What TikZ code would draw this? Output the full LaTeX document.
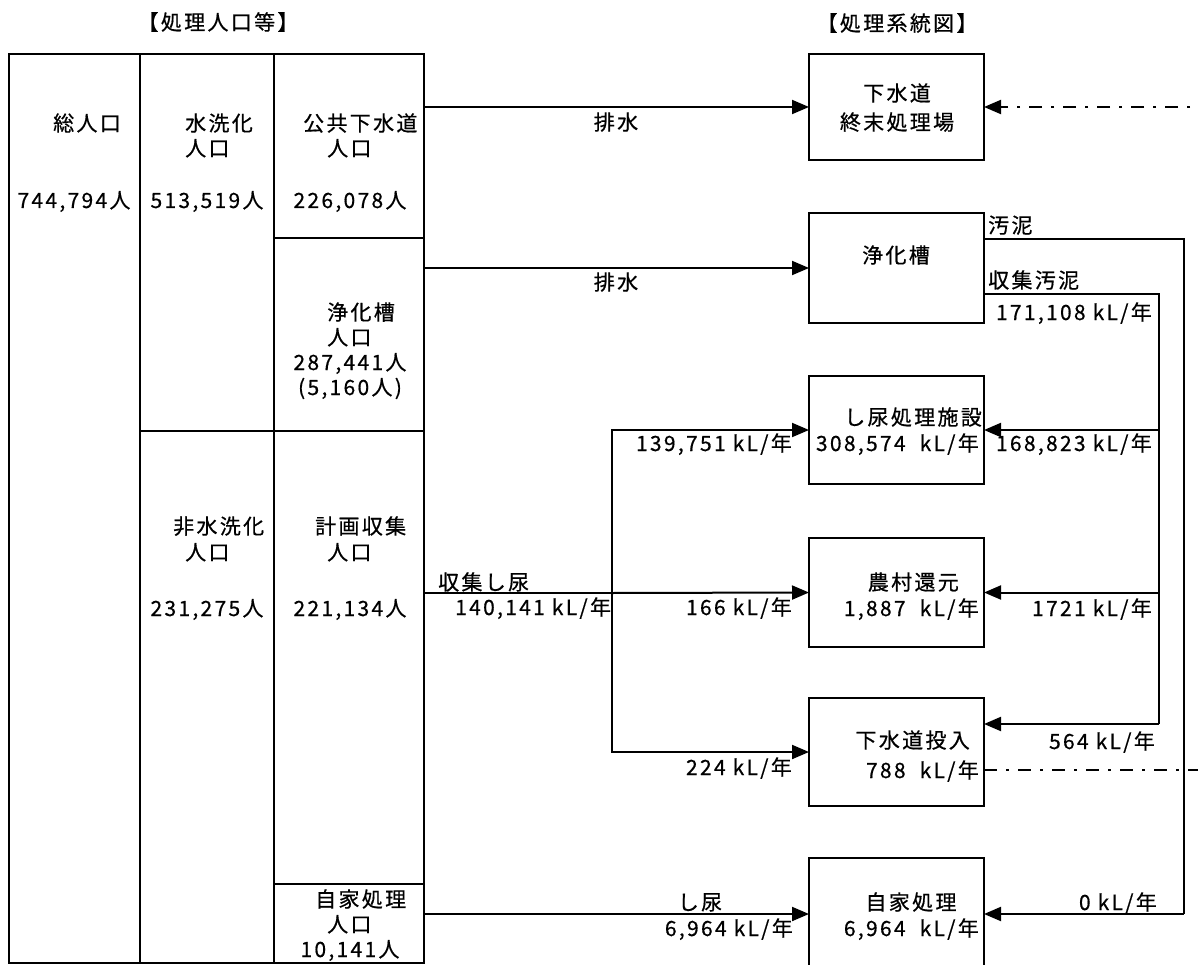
\documentclass[tikz,border=0pt]{standalone}
\usepackage{fontspec}
\setmainfont{Noto Sans CJK JP}[LetterSpace=11, FakeBold=0.6]
\usetikzlibrary{arrows.meta}
\tikzset{
  lbl/.style={font=\fontsize{21pt}{25pt}\selectfont, inner sep=0pt, text height=18.5pt, text depth=2.5pt},
  box/.style={draw, line width=2pt, minimum width=175pt, inner sep=0pt, outer sep=0pt},
  conn/.style={line width=2pt},
  arr/.style={line width=2pt, -{Triangle[length=17pt,width=14pt]}},
  dd/.style={line width=2pt, dash pattern=on 13pt off 9pt on 3pt off 9pt},
  grid/.style={line width=2pt},
}
\begin{document}
\begin{tikzpicture}[x=1pt, y=-1pt]
\fill[white] (0,0) rectangle (1198,965);
\useasboundingbox (0,0) rectangle (1198,965);

% titles
\node[lbl] (tA) at (218,22) {【処理人口等】};
\node[lbl] (tB) at (897,23) {【処理系統図】};

% table
\draw[grid] (9,54) rectangle (424,963);
\draw[grid] (140,54) -- (140,963);
\draw[grid] (274,54) -- (274,963);
\draw[grid] (274,238) -- (424,238);
\draw[grid] (140,431) -- (424,431);
\draw[grid] (274,884) -- (424,884);

\node[lbl] (c1a) at (87,123) {総人口};
\node[lbl] (c1b) at (74,200) {744,794人};
\node[lbl, anchor=west] (c2a) at (185,123) {水洗化};
\node[lbl, anchor=west] (c2b) at (185,148) {人口};
\node[lbl] (c2c) at (207,200) {513,519人};
\node[lbl, anchor=west] (c3a) at (303,123) {公共下水道};
\node[lbl, anchor=west] (c3b) at (327,148) {人口};
\node[lbl] (c3c) at (350,200) {226,078人};
\node[lbl, anchor=west] (c4a) at (327,312) {浄化槽};
\node[lbl, anchor=west] (c4b) at (327,337) {人口};
\node[lbl] (c4c) at (350,362) {287,441人};
\node[lbl] (c4d) at (350,387) {(5,160人)};
\node[lbl, anchor=west] (c5a) at (173,526) {非水洗化};
\node[lbl, anchor=west] (c5b) at (185,552) {人口};
\node[lbl] (c5c) at (207,608) {231,275人};
\node[lbl, anchor=west] (c6a) at (315,526) {計画収集};
\node[lbl, anchor=west] (c6b) at (327,552) {人口};
\node[lbl] (c6c) at (350,608) {221,134人};
\node[lbl, anchor=west] (c7a) at (315,899) {自家処理};
\node[lbl, anchor=west] (c7b) at (327,924) {人口};
\node[lbl] (c7c) at (350,949) {10,141人};

% boxes
\node[box, minimum height=106pt] (b1) at (896.5,107) {};
\node[box, minimum height=110pt] (b2) at (896.5,268) {};
\node[box, minimum height=108pt] (b3) at (896.5,430) {};
\node[box, minimum height=109pt] (b4) at (896.5,592.5) {};
\node[box, minimum height=108pt] (b5) at (896.5,752) {};
\node[box, minimum height=112pt] (b6) at (896.5,914) {};

\node[lbl] (b1a) at (897,93) {下水道};
\node[lbl] (b1b) at (897,122) {終末処理場};
\node[lbl] (b2a) at (896,255) {浄化槽};
\node[lbl, anchor=east] (b3a) at (982,417) {し尿処理施設};
\node[lbl, anchor=east] (b3b) at (979,443) {308,574~~kL/年};
\node[lbl, anchor=east] (b4a) at (959,582) {農村還元};
\node[lbl, anchor=east] (b4b) at (979,608) {1,887~~kL/年};
\node[lbl, anchor=east] (b5a) at (970,740) {下水道投入};
\node[lbl, anchor=east] (b5b) at (979,770) {788~~kL/年};
\node[lbl] (b6a) at (911,902) {自家処理};
\node[lbl, anchor=east] (b6b) at (979,928) {6,964~~kL/年};

% left connectors
\coordinate (s1) at (424,107);
\coordinate (s2) at (424,268);
\coordinate (s3) at (424,593);
\coordinate (s4) at (424,914);
\coordinate (j) at (612,593);
\draw[arr] (s1) -- (b1.west);
\draw[arr] (s2) -- (b2.west);
\draw[conn] (s3) -- (j);
\draw[arr] (j) -- (b4.west);
\draw[arr] (j) |- (b3.west);
\draw[arr] (j) |- (b5.west);
\draw[arr] (s4) -- (b6.west);

\node[lbl] (l1) at (616,122) {排水};
\node[lbl] (l2) at (616,282) {排水};
\node[lbl, anchor=west] (l3) at (438,582) {収集し尿};
\node[lbl, anchor=west] (l4) at (455,607) {140,141 kL/年};
\node[lbl, anchor=east] (l5) at (792,443) {139,751 kL/年};
\node[lbl, anchor=east] (l6) at (792,607) {166 kL/年};
\node[lbl, anchor=east] (l7) at (792,767) {224 kL/年};
\node[lbl] (l8) at (700,902) {し尿};
\node[lbl, anchor=east] (l9) at (793,928) {6,964 kL/年};

% right connectors
\coordinate (p1) at (1184,239);
\coordinate (p2) at (1184,914);
\coordinate (q1) at (1159,294);
\coordinate (q2) at (1159,724);
\draw[conn] (b2.east |- p1) -- (p1) -- (p2);
\draw[arr] (p2) -- (b6.east);
\draw[conn] (b2.east |- q1) -- (q1) -- (q2);
\draw[arr] (q2) -- (b5.east |- q2);
\draw[arr] (q1 |- b3.east) -- (b3.east);
\draw[arr] (q1 |- b4.east) -- (b4.east);

\node[lbl, anchor=west] (r1) at (988,225) {汚泥};
\node[lbl, anchor=west] (r2) at (988,280) {収集汚泥};
\node[lbl, anchor=east] (r3) at (1152,312) {171,108 kL/年};
\node[lbl, anchor=east] (r4) at (1152,443) {168,823 kL/年};
\node[lbl, anchor=east] (r5) at (1152,608) {1721 kL/年};
\node[lbl, anchor=east] (r6) at (1155,741) {564 kL/年};
\node[lbl, anchor=east] (r7) at (1157,902) {0 kL/年};

% dash-dot lines
\coordinate (e1) at (1212,107);
\coordinate (e2) at (1212,770);
\draw[dd, -{Triangle[length=17pt,width=14pt]}] (e1) -- (b1.east);
\draw[dd] (b5.east |- e2) -- (e2);
\end{tikzpicture}
\end{document}
